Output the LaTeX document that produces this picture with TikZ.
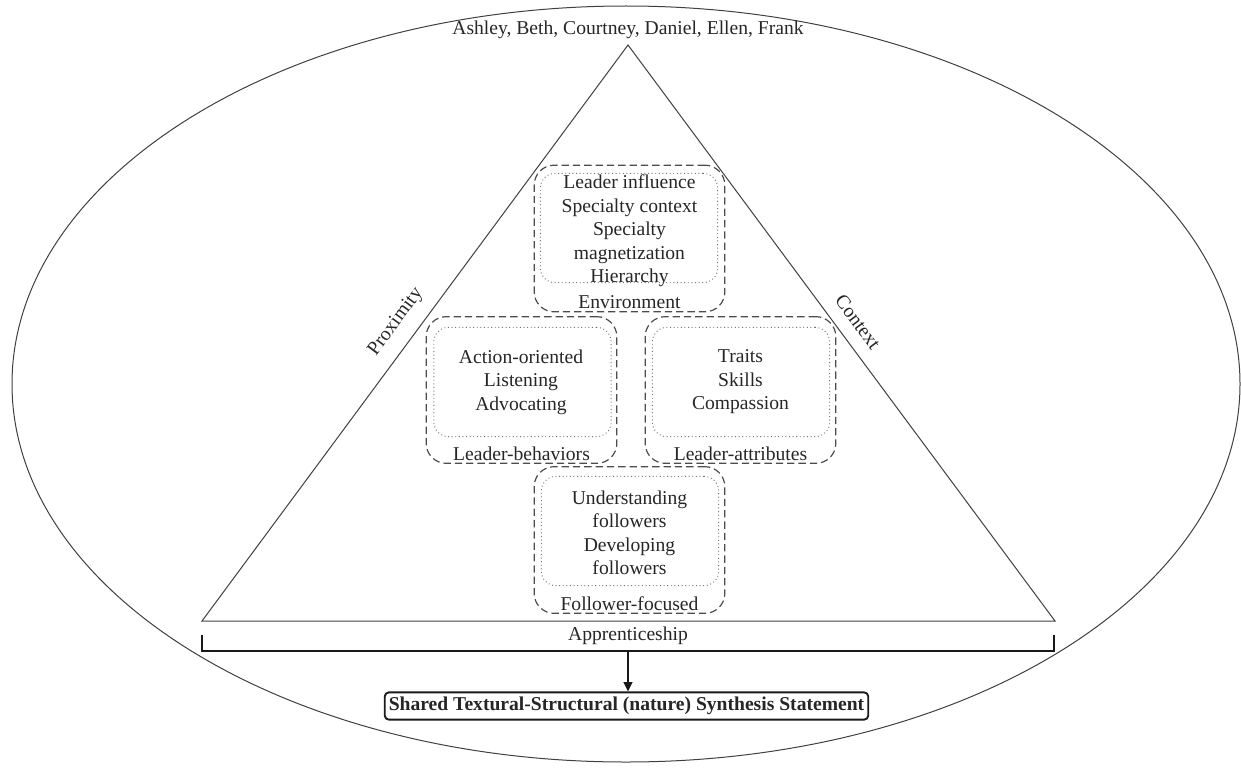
\documentclass[tikz,border=0pt]{standalone}
\usepackage{fontspec}
\setmainfont{Liberation Serif}
\usetikzlibrary{arrows.meta}
\begin{document}
\begin{tikzpicture}[x=0.75pt,y=-0.75pt,
  txt/.style={font=\fontsize{14.7}{17.6}\selectfont, text=black!85, inner sep=0pt, align=center},
  thin line/.style={draw=black!75, line width=0.75pt},
  groupbox/.style={draw=black!70, dash pattern=on 5.5pt off 3pt, line width=0.9pt,
    rounded corners=15pt, minimum width=143pt, minimum height=110pt, inner sep=0pt},
  itembox/.style={draw=black!55, dotted, line width=0.7pt,
    rounded corners=11pt, minimum width=133pt, minimum height=82pt, inner sep=0pt},
  bracket/.style={draw=black!90, line width=1.3pt},
  result/.style={txt, font=\fontsize{14.7}{17.6}\selectfont\bfseries, draw=black!90,
    line width=1.4pt, rounded corners=3pt, inner xsep=3pt, inner ysep=3.5pt}
]
\useasboundingbox (0,0) rectangle (1241,767);

% outer ellipse
\draw[thin line] (626,384) ellipse [x radius=614, y radius=378];

% participants
\node[txt] (names) at (628,30) {Ashley, Beth, Courtney, Daniel, Ellen, Frank};

% triangle
\coordinate (apex) at (628,45);
\coordinate (baseL) at (202,621);
\coordinate (baseR) at (1055,621);
\draw[thin line] (apex) -- (baseL) -- (baseR) -- cycle;

\node[txt, rotate=53.5] (prox) at (396,322) {Proximity};
\node[txt, rotate=-53.5] (ctx) at (858,322) {Context};

% Environment group
\node[groupbox] (env) at (629.5,238.5) {};
\node[itembox] (envin) at (629,228) {};
\node[txt] (envtxt) at (629.5,231) {Leader influence\\Specialty context\\Specialty\\magnetization\\Hierarchy};
\node[txt] (envlab) at (629.5,302) {Environment};

% Leader-behaviors group
\node[groupbox] (beh) at (521.5,390) {};
\node[itembox] (behin) at (522.5,382) {};
\node[txt] (behtxt) at (521,382) {Action-oriented\\Listening\\Advocating};
\node[txt] (behlab) at (521.5,454) {Leader-behaviors};

% Leader-attributes group
\node[groupbox] (att) at (740.5,390) {};
\node[itembox] (attin) at (741,382) {};
\node[txt] (atttxt) at (740.5,382) {Traits\\Skills\\Compassion};
\node[txt] (attlab) at (740.5,454) {Leader-attributes};

% Follower-focused group
\node[groupbox] (fol) at (629.5,540) {};
\node[itembox] (folin) at (630,531) {};
\node[txt] (foltxt) at (629.5,533) {Understanding\\followers\\Developing\\followers};
\node[txt] (follab) at (629.5,604) {Follower-focused};

% apprenticeship bracket
\coordinate (brL) at (202,635);
\coordinate (brR) at (1054,635);
\coordinate (brLb) at (202,651);
\coordinate (brRb) at (1054,651);
\coordinate (brmid) at (628,651);
\draw[bracket] (brL) -- (brLb) -- (brRb) -- (brR);
\node[txt] (appr) at (628,636) {Apprenticeship};

% synthesis statement
\node[result] (synth) at (626.5,706) {Shared Textural-Structural (nature) Synthesis Statement};
\draw[bracket, line width=1.2pt, -{Triangle[length=7pt,width=6.5pt]}] (brmid) -- (brmid |- synth.north);
\end{tikzpicture}
\end{document}
